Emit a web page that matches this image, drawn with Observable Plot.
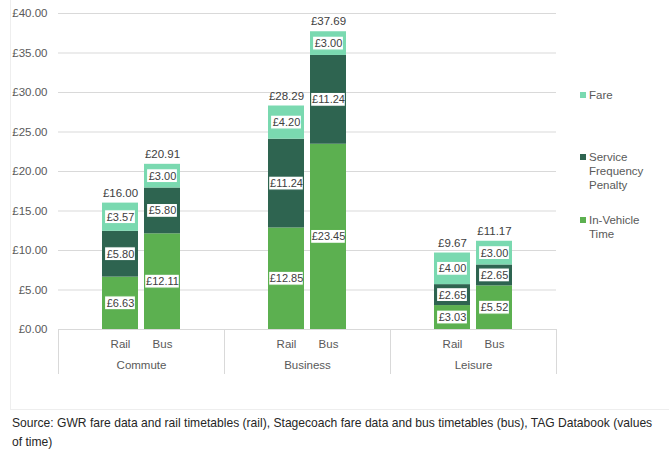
<!DOCTYPE html>
<html>
<head>
<meta charset="utf-8">
<script src="https://cdn.jsdelivr.net/npm/d3@7"></script>
<script src="https://cdn.jsdelivr.net/npm/@observablehq/plot@0.6"></script>
<style>
  html, body { margin: 0; padding: 0; background: #fff; }
  body { width: 669px; height: 452px; position: relative; overflow: hidden; font-family: "Liberation Sans", Arial, sans-serif; }
  #frame { position: absolute; left: 10px; top: -1px; width: 700px; height: 411px; border: 1px solid #eeeeee; box-sizing: border-box; }
  #chart { position: absolute; left: 0; top: 0; }
  #legend { position: absolute; left: 0; top: 0; font-size: 11.5px; color: #595959; }
  .item { position: absolute; left: 580px; line-height: 14px; }
  .sw { position: absolute; left: 0; top: 4px; width: 6px; height: 6px; }
  .lbl { position: absolute; left: 9px; top: 0; white-space: nowrap; }
  #caption { position: absolute; left: 12px; top: 414px; width: 660px; font-size: 12.1px; line-height: 19px; color: #262626; white-space: nowrap; }
</style>
</head>
<body>
<div id="frame"></div>
<div id="chart"></div>
<div id="legend"></div>
<div id="caption">Source: GWR fare data and rail timetables (rail), Stagecoach fare data and bus timetables (bus), TAG Databook (values<br>of time)</div>
<script>
const groups = ["Commute", "Business", "Leisure"];
const modes = ["Rail", "Bus"];
const components = ["In-Vehicle Time", "Service Frequency Penalty", "Fare"];
const componentColors = ["#5cb050", "#2e6450", "#7ad9b0"];
// order: Commute Rail, Commute Bus, Business Rail, Business Bus, Leisure Rail, Leisure Bus
const inVehicleTime = [6.63, 12.11, 12.85, 23.45, 3.03, 5.52];
const serviceFrequencyPenalty = [5.80, 5.80, 11.24, 11.24, 2.65, 2.65];
const fare = [3.57, 3.00, 4.20, 3.00, 4.00, 3.00];
const totals = [16.00, 20.91, 28.29, 37.69, 9.67, 11.17];
const yTicks = [0, 5, 10, 15, 20, 25, 30, 35, 40];
const legendLabels = [["Fare"], ["Service", "Frequency", "Penalty"], ["In-Vehicle", "Time"]];

const series = [inVehicleTime, serviceFrequencyPenalty, fare];
const rows = [];
const totalRows = [];
totals.forEach((total, i) => {
  const group = groups[Math.floor(i / 2)];
  const mode = modes[i % 2];
  let cum = 0;
  series.forEach((vals, k) => {
    const value = vals[i];
    rows.push({group, mode, component: components[k], value, mid: cum + value / 2});
    cum += value;
  });
  totalRows.push({group, mode, total});
});

const money = v => "£" + v.toFixed(2);
const FONT = 11.5;
const LABEL_FONT = 11;
const shortRows = rows.filter(d => d.value < 10);
const longRows = rows.filter(d => d.value >= 10);
const boxOpts = {x: "mode", fx: "group", y1: "mid", y2: "mid", fill: "white", stroke: "component", strokeWidth: 1.2,
  insetTop: -7, insetBottom: -7};

const chart = Plot.plot({
  width: 669,
  height: 400,
  marginLeft: 58,
  marginRight: 113,
  marginTop: 13,
  marginBottom: 71,
  style: {fontFamily: '"Liberation Sans", Arial, sans-serif', fontSize: FONT + "px", color: "#595959", background: "transparent"},
  fx: {domain: groups, padding: 0, label: null},
  x: {domain: modes, paddingInner: 6 / 42, paddingOuter: 44 / 42, label: null},
  y: {domain: [0, 40], label: null},
  color: {domain: components, range: componentColors},
  marks: [
    Plot.gridY(yTicks, {stroke: "#d9d9d9", strokeOpacity: 1}),
    Plot.frame({anchor: "left", stroke: "#d9d9d9", strokeOpacity: 1, insetTop: 316, insetBottom: -44}),
    Plot.frame({anchor: "right", stroke: "#d9d9d9", strokeOpacity: 1, insetTop: 316, insetBottom: -44}),
    Plot.axisY(yTicks, {tickSize: 0, tickPadding: 11, tickFormat: money, label: null, fill: "#595959", fontSize: FONT}),
    Plot.axisX({tickSize: 0, tickPadding: 10, label: null, fill: "#595959", fontSize: FONT}),
    Plot.axisFx({anchor: "bottom", tickSize: 0, tickPadding: 31, label: null, fill: "#595959", fontSize: FONT}),
    Plot.barY(rows, {x: "mode", fx: "group", y: "value", fill: "component", order: null}),
    Plot.barY(shortRows, {...boxOpts, insetLeft: 2.5, insetRight: 2.5}),
    Plot.barY(longRows, {...boxOpts, insetLeft: 0.6, insetRight: 0.6}),
    Plot.text(rows, {x: "mode", fx: "group", y: "mid", text: d => money(d.value), fill: "#404040", fontSize: LABEL_FONT}),
    Plot.text(totalRows, {x: "mode", fx: "group", y: "total", text: d => money(d.total), dy: -10, fill: "#404040", fontSize: FONT})
  ]
});
document.getElementById("chart").append(chart);

// Legend (top to bottom: Fare, Service Frequency Penalty, In-Vehicle Time)
const legend = document.getElementById("legend");
const legendTops = [88, 150, 213];
const legendOrder = [2, 1, 0];
legendOrder.forEach((k, j) => {
  const item = document.createElement("div");
  item.className = "item";
  item.style.top = legendTops[j] + "px";
  const sw = document.createElement("div");
  sw.className = "sw";
  sw.style.background = componentColors[k];
  const lbl = document.createElement("div");
  lbl.className = "lbl";
  lbl.innerHTML = legendLabels[j].join("<br>");
  item.append(sw, lbl);
  legend.append(item);
});
</script>
</body>
</html>
